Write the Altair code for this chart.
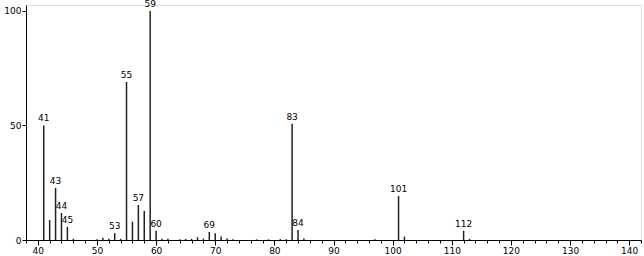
import altair as alt
import pandas as pd

mz = [41, 42, 43, 44, 45, 46, 50, 51, 52, 53, 54, 55, 56, 57, 58, 59, 60, 61, 62,
      64, 65, 66, 67, 68, 69, 70, 71, 72, 73, 77, 79, 81, 82, 83, 84, 85, 97,
      101, 102, 112, 113]
intensity = [50, 8.7, 22.7, 11.8, 5.7, 0.5, 0.3, 1.0, 0.5, 3.0, 0.5, 69, 8, 15.3, 12.7, 100, 4, 0.6, 0.5,
             0.3, 0.5, 0.5, 1.2, 0.6, 3.5, 3.0, 1.5, 0.7, 0.3, 0.3, 0.3, 0.4, 0.3, 50.7, 4.4, 0.7, 0.3,
             19.2, 1.5, 4.0, 0.5]
labeled = [41, 43, 44, 45, 53, 55, 57, 59, 60, 69, 83, 84, 101, 112]
major_ticks = list(range(40, 141, 10))
minor_ticks = list(range(38, 143, 2))

df = pd.DataFrame({"mz": mz, "I": intensity})
df["lab"] = [str(m) if m in labeled else "" for m in mz]

FONT = "DejaVu Sans"
xscale = alt.Scale(domain=[38, 142], nice=False, zero=False)
yscale = alt.Scale(domain=[0, 102.6], nice=False)

x_major = alt.X("mz:Q", scale=xscale,
                axis=alt.Axis(values=major_ticks, title=None, grid=False, orient="bottom",
                              tickSize=5, labelOverlap=False, labelFlush=False,
                              domainColor="black", tickColor="black", labelColor="black",
                              labelFont=FONT, labelFontSize=9, labelPadding=1))
x_minor = alt.X("mz:Q", scale=xscale,
                axis=alt.Axis(values=minor_ticks, title=None, grid=False, orient="bottom",
                              tickSize=3, labels=False, domain=False, tickColor="black"))
y = alt.Y("I:Q", scale=yscale,
          axis=alt.Axis(values=[0, 50, 100], title=None, grid=False, tickSize=4,
                        domainColor="black", tickColor="black", labelColor="black",
                        labelFont=FONT, labelFontSize=9, labelPadding=1))

bars = alt.Chart(df).mark_rule(color="#222222", strokeWidth=1.5).encode(
    x=x_major, y=y, y2=alt.datum(0))
text = alt.Chart(df).mark_text(baseline="bottom", dy=-2, font=FONT, fontSize=9,
                               color="black").encode(x=x_minor, y=alt.Y("I:Q", scale=yscale), text="lab:N")

chart = alt.layer(bars, text).resolve_axis(x="independent").properties(
    width=615, height=235,
    autosize=alt.AutoSizeParams(type="none"),
    padding={"left": 26, "top": 5, "right": 3, "bottom": 16},
).configure_view(stroke=None).configure(background="white")

chart.save("out.html", embed_options={"renderer": "svg", "actions": False})
